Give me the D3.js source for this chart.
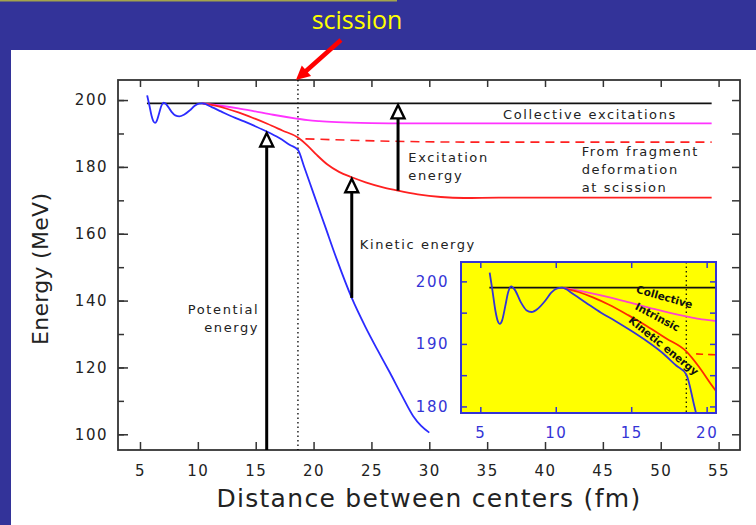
<!DOCTYPE html>
<html>
<head>
<meta charset="utf-8">
<script src="https://cdn.jsdelivr.net/npm/d3@7"></script>
<style>
  html, body { margin: 0; padding: 0; background: #333399; }
  svg { display: block; }
  text { font-family: "DejaVu Sans", sans-serif; }
</style>
</head>
<body>
<svg id="chart" width="756" height="525"></svg>
<script>
// Energy balance of a fissioning nucleus along the path to scission

// ---- tick values ----
const xTickValues = [5, 10, 15, 20, 25, 30, 35, 40, 45, 50, 55];
const yMajorTicks = [100, 120, 140, 160, 180, 200];
const yMinorTicks = [100, 110, 120, 130, 140, 150, 160, 170, 180, 190, 200];
const insetXTicks = [5, 10, 15, 20];
const insetYLabels = [180, 190, 200];
const insetYTicks = [180, 185, 190, 195, 200];

// ---- series (distance in fm, energy in MeV) ----
const scissionPoint = 18.65;

const saddleLevel = [[5.6, 199.0], [54.4, 199.0]];

const potentialEnergy = [
  [5.62, 201.4], [5.8, 198.6], [6.0, 195.3], [6.15, 193.7], [6.3, 193.2], [6.45, 193.8],
  [6.65, 196.0], [6.85, 198.3], [7.05, 199.2], [7.3, 198.6], [7.7, 196.6], [8.05, 195.4],
  [8.4, 195.1], [8.8, 195.6], [9.3, 196.9], [9.7, 198.2], [10.1, 198.9], [10.4, 199.0],
  [11.2, 197.9], [12.0, 196.6], [13.0, 195.0], [14.0, 193.6], [15.0, 192.1], [16.0, 190.5],
  [17.0, 188.7], [18.0, 186.5], [18.65, 185.1],
  [19.2, 179.9], [20.0, 172.0], [21.0, 162.2], [22.0, 152.4], [23.3, 140.8], [24.5, 132.0],
  [25.5, 125.4], [26.6, 118.4], [27.6, 111.8], [28.6, 105.5], [29.3, 102.5], [30.0, 100.5]
];

const collectiveEnergy = [
  [10.4, 199.0], [12.0, 198.3], [13.5, 197.5], [14.8, 196.7], [16.5, 195.6], [18.65, 194.4],
  [19.5, 194.0], [20.5, 193.7], [22.0, 193.4], [25.0, 193.1], [28.0, 193.0], [54.4, 193.0]
];

const intrinsicEnergy = [
  [10.4, 199.0], [11.5, 198.3], [12.5, 197.4], [13.5, 196.3], [14.8, 194.6], [16.0, 192.9],
  [17.3, 190.9], [18.65, 188.8], [19.5, 186.3], [20.3, 183.5], [21.2, 180.7], [22.2, 178.5],
  [23.3, 176.9], [24.5, 175.4], [26.0, 173.9], [27.3, 172.9], [29.0, 171.8], [31.0, 171.0],
  [33.0, 170.7], [36.0, 170.8], [54.4, 170.8]
];

const deformationEnergy = [
  [19.3, 188.4], [23.0, 188.0], [28.0, 187.6], [35.0, 187.4], [54.4, 187.4]
];

// arrow positions (fm) and the curves they join
const arrowSpecs = [
  { x: 15.95, from: null, to: potentialEnergy },
  { x: 23.3, from: potentialEnergy, to: intrinsicEnergy },
  { x: 27.3, from: intrinsicEnergy, to: saddleLevel }
];

// ---- helpers ----
function valueAt(curve, xv) {
  for (let i = 1; i < curve.length; i++) {
    const [x0, y0] = curve[i - 1], [x1, y1] = curve[i];
    if (xv >= x0 && xv <= x1) return y0 + (y1 - y0) * (xv - x0) / (x1 - x0);
  }
  return curve[curve.length - 1][1];
}

const svg = d3.select("#chart");

// slide background pieces
svg.append("rect").attr("x", 0).attr("y", 0).attr("width", 756).attr("height", 525).attr("fill", "#333399");
svg.append("rect").attr("x", 0).attr("y", 0).attr("width", 397).attr("height", 1.5).attr("fill", "#a4a44c");
svg.append("rect").attr("x", 11).attr("y", 50).attr("width", 745).attr("height", 475).attr("fill", "#ffffff");

// ---- main plot ----
const xDomain = [3.1, 56.85], yDomain = [95.3, 206];
const x = d3.scaleLinear().domain(xDomain).range([118, 740]);
const y = d3.scaleLinear().domain(yDomain).range([450, 80]);

const line = d3.line().x(d => x(d[0])).y(d => y(d[1])).curve(d3.curveMonotoneX);

const main = svg.append("g");

function styleAxis(g, color, fontSize) {
  g.select(".domain").remove();
  g.selectAll(".tick line").attr("stroke", color).attr("stroke-width", 1.5);
  g.selectAll(".tick text")
    .attr("fill", color === "#333" ? "#222" : color)
    .style("font-family", "DejaVu Sans, sans-serif")
    .style("font-size", fontSize + "px")
    .style("letter-spacing", "1.5px");
}

main.append("g").attr("transform", `translate(0,${y(yDomain[0])})`)
  .call(d3.axisBottom(x).tickValues(xTickValues).tickSize(-8).tickPadding(15).tickFormat(d3.format("d")))
  .call(g => styleAxis(g, "#333", 15));
main.append("g").attr("transform", `translate(0,${y(yDomain[1])})`)
  .call(d3.axisTop(x).tickValues(xTickValues).tickSize(-7).tickFormat(""))
  .call(g => styleAxis(g, "#333", 15));
main.append("g").attr("transform", `translate(${x(xDomain[0])},0)`)
  .call(d3.axisLeft(y).tickValues(yMinorTicks).tickSize(-6).tickFormat(""))
  .call(g => styleAxis(g, "#333", 15));
main.append("g").attr("transform", `translate(${x(xDomain[0])},0)`)
  .call(d3.axisLeft(y).tickValues(yMajorTicks).tickSize(-10).tickPadding(10).tickFormat(d3.format("d")))
  .call(g => styleAxis(g, "#333", 15));
main.append("g").attr("transform", `translate(${x(xDomain[1])},0)`)
  .call(d3.axisRight(y).tickValues(yMinorTicks).tickSize(-8).tickFormat(""))
  .call(g => styleAxis(g, "#333", 15));

main.append("rect")
  .attr("x", x(xDomain[0])).attr("y", y(yDomain[1]))
  .attr("width", x(xDomain[1]) - x(xDomain[0])).attr("height", y(yDomain[0]) - y(yDomain[1]))
  .attr("fill", "none").attr("stroke", "#333").attr("stroke-width", 1.8);

// scission marker
main.append("line")
  .attr("x1", x(scissionPoint)).attr("x2", x(scissionPoint))
  .attr("y1", y(yDomain[1])).attr("y2", y(yDomain[0]))
  .attr("stroke", "#000").attr("stroke-width", 1.3).attr("stroke-dasharray", "1.5,3");

// curves
main.append("path").datum(saddleLevel).attr("d", line).attr("fill", "none").attr("stroke", "#111").attr("stroke-width", 1.6);
main.append("path").datum(collectiveEnergy).attr("d", line).attr("fill", "none").attr("stroke", "#ff33ff").attr("stroke-width", 1.8);
main.append("path").datum(deformationEnergy).attr("d", line).attr("fill", "none").attr("stroke", "#ff2020").attr("stroke-width", 1.6).attr("stroke-dasharray", "9,6");
main.append("path").datum(intrinsicEnergy).attr("d", line).attr("fill", "none").attr("stroke", "#ff2020").attr("stroke-width", 1.8);
main.append("path").datum(potentialEnergy).attr("d", line).attr("fill", "none").attr("stroke", "#2b2bff").attr("stroke-width", 1.8);

// energy arrows with open heads
arrowSpecs.forEach(a => {
  const px = x(a.x);
  const yBase = a.from ? y(valueAt(a.from, a.x)) : y(yDomain[0]);
  const yTip = y(valueAt(a.to, a.x));
  const headH = 15, headW = 6.5;
  main.append("line").attr("x1", px).attr("x2", px).attr("y1", yBase).attr("y2", yTip + headH)
    .attr("stroke", "#000").attr("stroke-width", 3);
  main.append("path")
    .attr("d", `M${px},${yTip + 1.5}L${px - headW},${yTip + headH}L${px + headW},${yTip + headH}Z`)
    .attr("fill", "#fff").attr("stroke", "#000").attr("stroke-width", 2.4).attr("stroke-linejoin", "miter");
});

// annotations
const notes = [
  { t: ["Collective excitations"], x: 36.37, y: 195.7, anchor: "start" },
  { t: ["Excitation", "energy"], x: 28.19, y: 182.9, anchor: "start" },
  { t: ["From fragment", "deformation", "at scission"], x: 43.17, y: 184.6, anchor: "start" },
  { t: ["Kinetic energy"], x: 24.0, y: 156.9, anchor: "start" },
  { t: ["Potential", "energy"], x: 15.3, y: 137.4, anchor: "end" }
];
notes.forEach(n => {
  const txt = main.append("text")
    .attr("x", x(n.x)).attr("y", y(n.y))
    .attr("text-anchor", n.anchor)
    .attr("fill", "#222")
    .style("font-size", "13px").style("letter-spacing", "1.6px");
  n.t.forEach((s, i) => {
    txt.append("tspan").attr("x", x(n.x)).attr("dy", i === 0 ? "0.36em" : "1.38em").text(s);
  });
});

// axis titles
main.append("text")
  .attr("x", x(29.97)).attr("y", 507)
  .attr("text-anchor", "middle").attr("fill", "#222")
  .style("font-size", "25px").style("letter-spacing", "1.3px")
  .text("Distance between centers (fm)");
main.append("text")
  .attr("transform", `translate(48,${y(149.5)}) rotate(-90)`)
  .attr("text-anchor", "middle").attr("fill", "#222")
  .style("font-size", "22px").style("letter-spacing", "0.3px")
  .text("Energy (MeV)");

// ---- inset: close-up of the approach to scission ----
const xiDomain = [3.72, 20.62], yiDomain = [178.95, 203.1];
const xi = d3.scaleLinear().domain(xiDomain).range([461, 716]);
const yi = d3.scaleLinear().domain(yiDomain).range([413, 262]);
const lineI = d3.line().x(d => xi(d[0])).y(d => yi(d[1])).curve(d3.curveMonotoneX);

const inset = svg.append("g");
const insetBlue = "#3434d6";

svg.append("defs").append("clipPath").attr("id", "insetClip")
  .append("rect").attr("x", xi(xiDomain[0])).attr("y", yi(yiDomain[1]))
  .attr("width", xi(xiDomain[1]) - xi(xiDomain[0])).attr("height", yi(yiDomain[0]) - yi(yiDomain[1]));

inset.append("rect")
  .attr("x", xi(xiDomain[0])).attr("y", yi(yiDomain[1]))
  .attr("width", xi(xiDomain[1]) - xi(xiDomain[0])).attr("height", yi(yiDomain[0]) - yi(yiDomain[1]))
  .attr("fill", "#ffff00");

const ic = inset.append("g").attr("clip-path", "url(#insetClip)");
ic.append("line")
  .attr("x1", xi(scissionPoint)).attr("x2", xi(scissionPoint))
  .attr("y1", yi(yiDomain[1])).attr("y2", yi(yiDomain[0]))
  .attr("stroke", "#000").attr("stroke-width", 1.2).attr("stroke-dasharray", "1.5,3");
ic.append("path").datum([[saddleLevel[0][0], 199], [xiDomain[1], 199]]).attr("d", lineI)
  .attr("fill", "none").attr("stroke", "#111").attr("stroke-width", 1.6);
ic.append("path").datum(collectiveEnergy).attr("d", lineI).attr("fill", "none").attr("stroke", "#ff44cc").attr("stroke-width", 1.8);
ic.append("path").datum(deformationEnergy).attr("d", lineI).attr("fill", "none").attr("stroke", "#ff2a00").attr("stroke-width", 1.6).attr("stroke-dasharray", "7,5");
ic.append("path").datum(intrinsicEnergy).attr("d", lineI).attr("fill", "none").attr("stroke", "#ff2a00").attr("stroke-width", 1.8);
ic.append("path").datum(potentialEnergy).attr("d", lineI).attr("fill", "none").attr("stroke", insetBlue).attr("stroke-width", 1.8);

inset.append("g").attr("transform", `translate(0,${yi(yiDomain[0])})`)
  .call(d3.axisBottom(xi).tickValues(insetXTicks).tickSize(-6).tickPadding(14).tickFormat(d3.format("d")))
  .call(g => styleAxis(g, insetBlue, 15));
inset.append("g").attr("transform", `translate(0,${yi(yiDomain[1])})`)
  .call(d3.axisTop(xi).tickValues(insetXTicks).tickSize(-6).tickFormat(""))
  .call(g => styleAxis(g, insetBlue, 15));
inset.append("g").attr("transform", `translate(${xi(xiDomain[0])},0)`)
  .call(d3.axisLeft(yi).tickValues(insetYTicks).tickSize(-6).tickFormat(""))
  .call(g => styleAxis(g, insetBlue, 15));
inset.append("g").attr("transform", `translate(${xi(xiDomain[0])},0)`)
  .call(d3.axisLeft(yi).tickValues(insetYLabels).tickSize(0).tickPadding(12).tickFormat(d3.format("d")))
  .call(g => styleAxis(g, insetBlue, 15));
inset.append("g").attr("transform", `translate(${xi(xiDomain[1])},0)`)
  .call(d3.axisRight(yi).tickValues(insetYTicks).tickSize(-6).tickFormat(""))
  .call(g => styleAxis(g, insetBlue, 15));

inset.append("rect")
  .attr("x", xi(xiDomain[0])).attr("y", yi(yiDomain[1]))
  .attr("width", xi(xiDomain[1]) - xi(xiDomain[0])).attr("height", yi(yiDomain[0]) - yi(yiDomain[1]))
  .attr("fill", "none").attr("stroke", insetBlue).attr("stroke-width", 2);

const insetNotes = [
  { t: "Collective", x: 17.21, y: 197.5, rot: 16 },
  { t: "Intrinsic", x: 16.74, y: 194.3, rot: 28 },
  { t: "Kinetic energy", x: 17.15, y: 189.7, rot: 39 }
];
insetNotes.forEach(n => {
  inset.append("text")
    .attr("transform", `translate(${xi(n.x)},${yi(n.y)}) rotate(${n.rot})`)
    .attr("text-anchor", "middle").attr("dy", "0.35em")
    .attr("fill", "#111")
    .style("font-size", "10.5px").style("font-weight", "bold")
    .text(n.t);
});

// ---- slide heading and pointer to the scission point ----
svg.append("text")
  .attr("x", 357).attr("y", 29)
  .attr("text-anchor", "middle").attr("fill", "#ffff00")
  .style("font-family", "'Open Sans', sans-serif").style("font-size", "25px")
  .text("scission");

const tip = [x(scissionPoint) - 2, y(yDomain[1])];
const tail = [tip[0] + 45, tip[1] - 40];
const len = Math.hypot(tip[0] - tail[0], tip[1] - tail[1]);
const u = [(tip[0] - tail[0]) / len, (tip[1] - tail[1]) / len];
const nrm = [-u[1], u[0]];
const hl = 14, hw = 7;
const base = [tip[0] - hl * u[0], tip[1] - hl * u[1]];
svg.append("line")
  .attr("x1", tail[0]).attr("y1", tail[1]).attr("x2", base[0] + 2 * u[0]).attr("y2", base[1] + 2 * u[1])
  .attr("stroke", "#ff0000").attr("stroke-width", 4.5);
svg.append("path")
  .attr("d", `M${tip[0]},${tip[1]}L${base[0] + hw * nrm[0]},${base[1] + hw * nrm[1]}L${base[0] - hw * nrm[0]},${base[1] - hw * nrm[1]}Z`)
  .attr("fill", "#ff0000");
</script>
</body>
</html>
